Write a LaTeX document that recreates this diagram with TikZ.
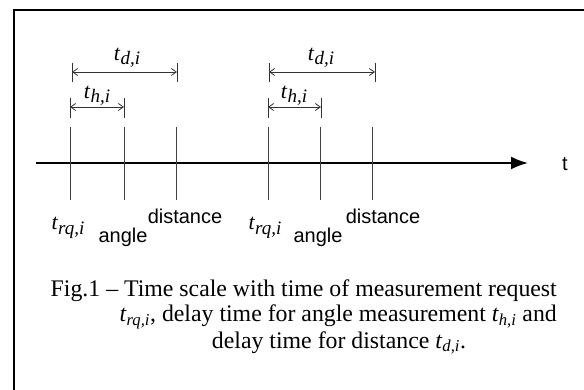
\documentclass[tikz,border=0pt]{standalone}
\usepackage{fontspec}
\setmainfont{Liberation Serif}
\newfontfamily\arial{Liberation Sans}
\usetikzlibrary{arrows.meta}
\usetikzlibrary{calc}
\tikzset{
  marco/.style={line width=2pt, draw=black},
  eje/.style={-{Latex[length=17pt,width=13pt]}, line width=2pt, draw=black},
  marca/.style={line width=0.9pt, draw=black!75},
  cota/.style={{Straight Barb[length=5pt,width=7pt]}-{Straight Barb[length=5pt,width=7pt]},
    line width=0.8pt, draw=black!80},
  limite/.style={line width=0.8pt, draw=black!80},
  texto/.style={font=\arial\fontsize{20}{22}\selectfont, inner sep=0pt},
  tiempo/.style={font=\fontsize{22}{24}\selectfont, inner sep=0pt},
  pie/.style={font=\fontsize{23.8}{26}\selectfont, inner sep=0pt}
}
\newcommand{\tsub}[1]{\textit{t}\raisebox{-0.4ex}{\fontsize{19}{20}\selectfont\textit{#1}}}
\newcommand{\tcap}[1]{\textit{t}\textsubscript{\textit{#1}}}

\begin{document}
\begin{tikzpicture}[x=1pt, y=-1pt]
  \useasboundingbox (0,0) rectangle (584,390);
  % marco
  \draw[marco] (14,390) -- (14,10) -- (584,10);

  % eje de tiempo
  \coordinate (ini) at (36,163);
  \coordinate (fin) at (528,163);
  \draw[eje] (ini) -- (fin);
  \node[texto] (t) at (565,164) {t};

  % marcas
  \coordinate (rqa) at (70,127);   \coordinate (rqb) at (70,200);
  \coordinate (ana) at (124,127);  \coordinate (anb) at (124,200);
  \coordinate (dia) at (176,127);  \coordinate (dib) at (176,200);
  \coordinate (rq2a) at (268,127); \coordinate (rq2b) at (268,200);
  \coordinate (an2a) at (320,127); \coordinate (an2b) at (320,200);
  \coordinate (di2a) at (372,127); \coordinate (di2b) at (372,200);
  \draw[marca] (rqa) -- (rqb);
  \draw[marca] (ana) -- (anb);
  \draw[marca] (dia) -- (dib);
  \draw[marca] (rq2a) -- (rq2b);
  \draw[marca] (an2a) -- (an2b);
  \draw[marca] (di2a) -- (di2b);

  % cotas td,i y th,i
  \coordinate (d1a) at (72,72);   \coordinate (d1b) at (177,72);
  \coordinate (h1a) at (70,107);  \coordinate (h1b) at (124,107);
  \coordinate (d2a) at (269,72);  \coordinate (d2b) at (375,72);
  \coordinate (h2a) at (268,107); \coordinate (h2b) at (321,107);
  \draw[limite] ($(d1a)+(0,-9)$) -- ($(d1a)+(0,10)$);
  \draw[limite] ($(d1b)+(0,-9)$) -- ($(d1b)+(0,10)$);
  \draw[limite] ($(h1a)+(0,-9)$) -- ($(h1a)+(0,11)$);
  \draw[limite] ($(h1b)+(0,-9)$) -- ($(h1b)+(0,11)$);
  \draw[limite] ($(d2a)+(0,-9)$) -- ($(d2a)+(0,10)$);
  \draw[limite] ($(d2b)+(0,-9)$) -- ($(d2b)+(0,10)$);
  \draw[limite] ($(h2a)+(0,-9)$) -- ($(h2a)+(0,11)$);
  \draw[limite] ($(h2b)+(0,-9)$) -- ($(h2b)+(0,11)$);
  \draw[cota] (d1a) -- (d1b);
  \draw[cota] (h1a) -- (h1b);
  \draw[cota] (d2a) -- (d2b);
  \draw[cota] (h2a) -- (h2b);
  \node[tiempo] (td1) at (127,58) {\tsub{d,i}};
  \node[tiempo] (th1) at (97,96) {\tsub{h,i}};
  \node[tiempo] (td2) at (321,58) {\tsub{d,i}};
  \node[tiempo] (th2) at (294,96) {\tsub{h,i}};

  % etiquetas bajo el eje
  \node[tiempo, anchor=base] (trq1) at (68,230) {\tsub{rq,i}};
  \node[texto, anchor=base] (ang1) at (123,243) {angle};
  \node[texto, anchor=base] (dis1) at (185,224) {distance};
  \node[tiempo, anchor=base] (trq2) at (265,230) {\tsub{rq,i}};
  \node[texto, anchor=base] (ang2) at (318,243) {angle};
  \node[texto, anchor=base] (dis2) at (383,224) {distance};

  % pie de figura
  \node[pie, anchor=base east] (pie1) at (557,297) {Fig.1 -- Time scale with time of measurement request};
  \node[pie, anchor=base east] (pie2) at (557,322) {\tcap{rq,i}, delay time for angle measurement \tcap{h,i} and};
  \node[pie, anchor=base] (pie3) at (339,348) {delay time for distance \tcap{d,i}.};
\end{tikzpicture}
\end{document}
